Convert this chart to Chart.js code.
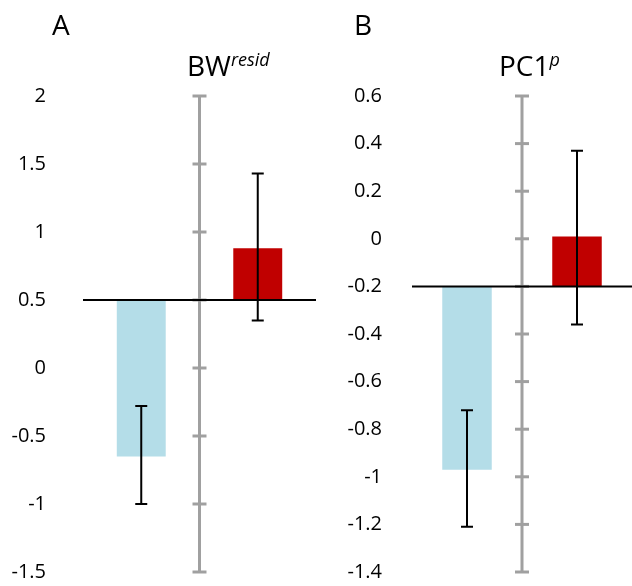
<!DOCTYPE html>
<html><head><meta charset="utf-8">
<script src="https://cdn.jsdelivr.net/npm/chart.js@4/dist/chart.umd.min.js"></script>
<style>
body{margin:0;background:#fff;font-family:"Open Sans",sans-serif;overflow:hidden;}
#wrap{position:relative;width:632px;height:586px;overflow:hidden;}
canvas{position:absolute;top:0;}
.lbl{position:absolute;font-size:28px;color:#000;line-height:1;}
.lbl sup{font-style:italic;font-size:18px;}
</style></head>
<body><div id="wrap">
<canvas id="cA" width="316" height="621" style="left:0;width:316px;height:621px"></canvas>
<canvas id="cB" width="316" height="614" style="left:316px;width:316px;height:614px"></canvas>
<div class="lbl" style="left:52px;top:10px">A</div>
<div class="lbl" style="left:187px;top:50px">BW<sup>resid</sup></div>
<div class="lbl" style="left:354px;top:10px">B</div>
<div class="lbl" style="left:499px;top:50px">PC1<sup>p</sup></div>
</div>
<script>
const groups = ['low', 'high'];
const colors = ['#b4dde8', '#c00000'];

// panel A: BW resid
const baseA = 0.5;
const valuesA = [-0.65, 0.88];
const errLowA = [-1.0, 0.35];
const errHighA = [-0.28, 1.43];

// panel B: PC1
const baseB = -0.2;
const valuesB = [-0.97, 0.01];
const errLowB = [-1.21, -0.36];
const errHighB = [-0.72, 0.37];

const extras = {
  id: 'extras',
  afterDatasetsDraw(chart, args, o) {
    const c = chart.ctx, a = chart.chartArea, y = chart.scales.y, x = chart.scales.x;
    c.save();
    // centre axis with ticks
    const cx = (a.left + a.right) / 2;
    c.strokeStyle = '#a0a0a0'; c.lineWidth = 3;
    c.beginPath(); c.moveTo(cx, a.top); c.lineTo(cx, a.bottom); c.stroke();
    y.ticks.forEach(t => {
      const py = y.getPixelForValue(t.value);
      c.beginPath(); c.moveTo(cx - 7, py); c.lineTo(cx + 7, py); c.stroke();
    });
    // baseline
    c.strokeStyle = '#000'; c.lineWidth = 2;
    const by = y.getPixelForValue(o.base);
    c.beginPath(); c.moveTo(a.left, by); c.lineTo(a.right, by); c.stroke();
    // error bars
    o.lo.forEach((lo, i) => {
      const px = x.getPixelForValue(i);
      const y1 = y.getPixelForValue(lo), y2 = y.getPixelForValue(o.hi[i]);
      c.beginPath();
      c.moveTo(px, y1); c.lineTo(px, y2);
      c.moveTo(px - 6, y1); c.lineTo(px + 6, y1);
      c.moveTo(px - 6, y2); c.lineTo(px + 6, y2);
      c.stroke();
    });
    c.restore();
  }
};

function makeChart(id, base, vals, lo, hi, min, max, step, axisW, pad, barPct) {
  return new Chart(document.getElementById(id), {
    type: 'bar',
    data: {
      labels: groups,
      datasets: [{
        data: vals.map(v => [base, v]),
        backgroundColor: colors,
        barPercentage: barPct,
        categoryPercentage: 1
      }]
    },
    options: {
      responsive: false, animation: false,
      layout: { padding: { top: 96, bottom: 14, left: 0, right: 0 } },
      plugins: { legend: { display: false }, tooltip: { enabled: false },
        extras: { base: base, lo: lo, hi: hi } },
      scales: {
        x: { display: false },
        y: {
          min: min, max: max,
          grid: { display: false, drawTicks: false }, border: { display: false },
          ticks: { stepSize: step, padding: pad, color: '#000',
            font: { family: 'Open Sans', size: 20 },
            callback: v => String(parseFloat(v.toFixed(1))) },
          afterFit: s => { s.width = axisW; }
        }
      }
    },
    plugins: [extras]
  });
}

makeChart('cA', baseA, valuesA, errLowA, errHighA, -1.5, 2, 0.5, 83, 37, 0.42);
makeChart('cB', baseB, valuesB, errLowB, errHighB, -1.4, 0.6, 0.2, 96, 30, 0.45);
</script>
</body></html>
